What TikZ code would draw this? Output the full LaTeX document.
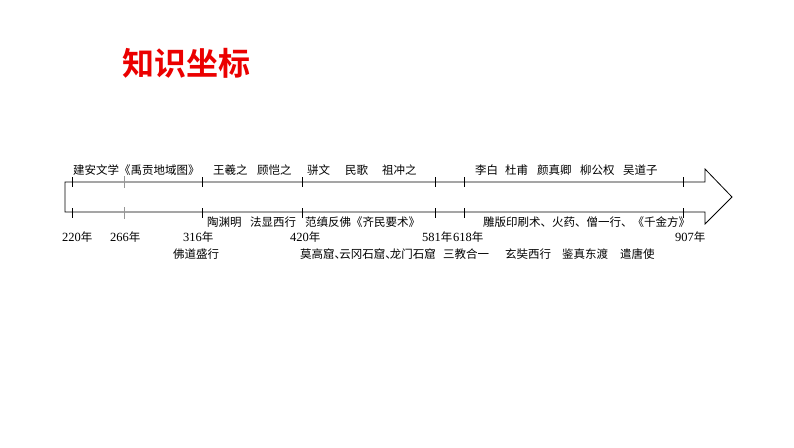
\documentclass[tikz,border=0pt]{standalone}
\usepackage{fontspec}
\newfontfamily\cjk{Noto Sans CJK SC}
\newfontfamily\cjkbold{Noto Sans CJK SC Bold}
\newfontfamily\digitfont{Liberation Serif}
\newcommand{\dn}{\makebox[0.4em][l]{、}}
\newcommand{\yr}[1]{{\digitfont\fontsize{12.5}{13}\selectfont #1}年}
\definecolor{titlered}{RGB}{235,0,0}
\definecolor{tickgray}{RGB}{150,150,150}
\tikzset{
  lbl/.style={inner sep=0pt, anchor=west, font=\cjk\fontsize{11.5}{12}\selectfont, text=black},
  tickmark/.style={line width=0.8pt, draw=black},
  grayt/.style={line width=0.8pt, draw=tickgray},
  outline/.style={line width=0.8pt, draw=black},
}
\begin{document}
\begin{tikzpicture}[x=1pt,y=-1pt]
\useasboundingbox (0,0) rectangle (794,447);
\fill[white] (0,0) rectangle (794,447);
% title
\node[inner sep=0pt, text=titlered, font=\cjkbold\fontsize{32}{34}\selectfont] (title) at (186,63) {知识坐标};
% arrow outline
\draw[outline, line join=miter] (65,182) -- (705,182) -- (705,169) -- (732,197) -- (705,224) -- (705,212) -- (65,212) -- cycle;
% ticks
\foreach \x in {72,202,302,435,464,683} {
  \draw[tickmark] (\x,177) -- (\x,187);
  \draw[tickmark] (\x,208) -- (\x,218);
}
\draw[grayt] (124,176) -- (124,188);
\draw[grayt] (124,207) -- (124,219);
% top row
\node[lbl] (t1) at (73,170) {建安文学《禹贡地域图》};
\node[lbl] (t2) at (213,170) {王羲之};
\node[lbl] (t3) at (257,170) {顾恺之};
\node[lbl] (t4) at (307,170) {骈文};
\node[lbl] (t5) at (345,170) {民歌};
\node[lbl] (t6) at (382,170) {祖冲之};
\node[lbl] (t7) at (475,170) {李白};
\node[lbl] (t8) at (505,170) {杜甫};
\node[lbl] (t9) at (537,170) {颜真卿};
\node[lbl] (t10) at (580,170) {柳公权};
\node[lbl] (t11) at (623,170) {吴道子};
% bottom row
\node[lbl] (b1) at (207,222) {陶渊明};
\node[lbl] (b2) at (250,222) {法显西行};
\node[lbl] (b3) at (305,222) {范缜反佛《齐民要术》};
\node[lbl] (b4) at (483,222) {雕版印刷术、火药、僧一行、《千金方》};
% years
\node[lbl] (y1) at (62,237) {\yr{220}};
\node[lbl] (y2) at (110,237) {\yr{266}};
\node[lbl] (y3) at (183,237) {\yr{316}};
\node[lbl] (y4) at (290,237) {\yr{420}};
\node[lbl] (y5) at (422,237) {\yr{581}};
\node[lbl] (y6) at (453,237) {\yr{618}};
\node[lbl] (y7) at (675,237) {\yr{907}};
% fourth row
\node[lbl] (r1) at (173,254) {佛道盛行};
\node[lbl] (r2) at (300,254) {莫高窟\dn 云冈石窟\dn 龙门石窟};
\node[lbl] (r3) at (443,254) {三教合一};
\node[lbl] (r4) at (505,254) {玄奘西行};
\node[lbl] (r5) at (562,254) {鉴真东渡};
\node[lbl] (r6) at (620,254) {遣唐使};
\end{tikzpicture}
\end{document}
